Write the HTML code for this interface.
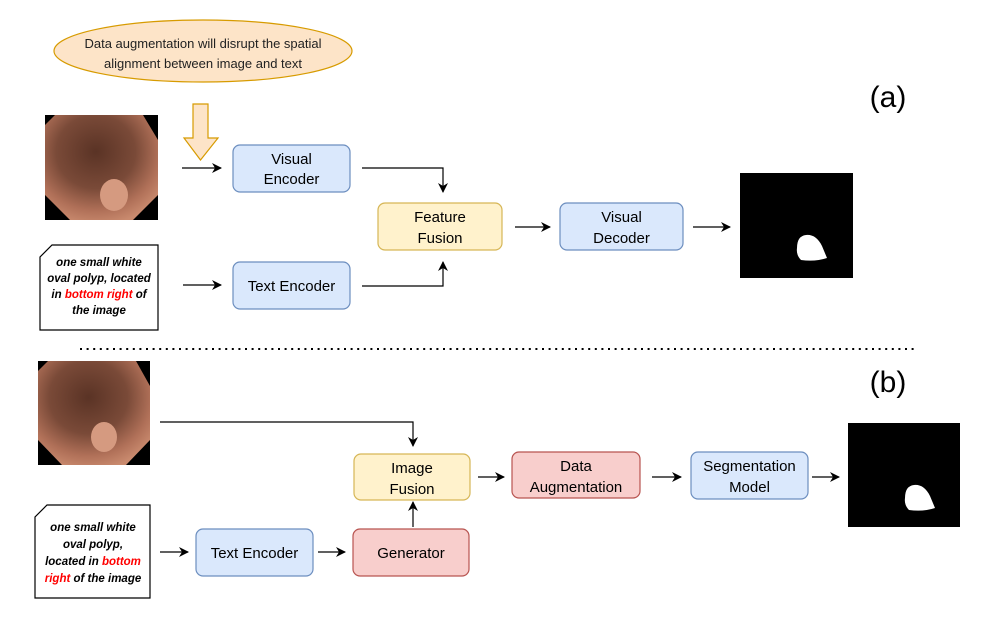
<!DOCTYPE html>
<html><head><style>body{margin:0;background:#fff}svg{display:block}text{font-family:"Liberation Sans",Arial,sans-serif}</style></head>
<body>
<svg width="996" height="623" viewBox="0 0 996 623" xmlns="http://www.w3.org/2000/svg">
<defs>
<marker id="ah" markerWidth="10" markerHeight="10" refX="9" refY="5" orient="auto" markerUnits="userSpaceOnUse"><path d="M0,0 L10,5 L0,10 L3,5 Z" fill="#000"/></marker>
<radialGradient id="pg" cx="0.45" cy="0.35" r="0.7"><stop offset="0" stop-color="#5a3325"/><stop offset="0.5" stop-color="#7a4a38"/><stop offset="0.8" stop-color="#b07058"/><stop offset="1" stop-color="#c98a6e"/></radialGradient>
</defs>
<ellipse cx="203" cy="51" rx="149" ry="31" fill="#fde4c8" stroke="#d79b00" stroke-width="1.2"/>
<text x="203" y="48" font-size="13" text-anchor="middle" fill="#222">Data augmentation will disrupt the spatial</text>
<text x="203" y="68" font-size="13" text-anchor="middle" fill="#222">alignment between image and text</text>
<path d="M193,104 H208 V138 H218 L200.5,160 L184,138 H193 Z" fill="#fde4c8" stroke="#d79b00" stroke-width="1.2"/>
<text x="888" y="107" font-size="30" text-anchor="middle">(a)</text>
<text x="888" y="392" font-size="30" text-anchor="middle">(b)</text>
<rect x="45" y="115" width="113" height="105" fill="#000"/>
<polygon points="55,115 143,115 158,140 158,195 133,220 70,220 45,195 45,125" fill="url(#pg)"/>
<ellipse cx="114" cy="195" rx="14" ry="16" fill="#d59a80"/>
<rect x="38" y="361" width="112" height="104" fill="#000"/>
<polygon points="48,361 136,361 150,386 150,440 126,465 62,465 38,440 38,371" fill="url(#pg)"/>
<ellipse cx="104" cy="437" rx="13" ry="15" fill="#d59a80"/>
<rect x="740" y="173" width="113" height="105" fill="#000"/>
<path d="M797,248 Q797,236 806,235 Q816,234 822,246 L827,258 Q815,262 801,260 Q796,255 797,248 Z" fill="#fff"/>
<rect x="848" y="423" width="112" height="104" fill="#000"/>
<path d="M905,498 Q905,486 914,485 Q924,484 930,496 L935,508 Q923,512 909,510 Q904,505 905,498 Z" fill="#fff"/>
<path d="M52,245 H158 V330 H40 V257 Z" fill="#fff" stroke="#000" stroke-width="1.2"/>
<g font-size="11.5" font-weight="bold" font-style="italic" text-anchor="middle">
<text x="99" y="266">one small white</text>
<text x="99" y="282">oval polyp, located</text>
<text x="99" y="298">in <tspan fill="#f00">bottom right</tspan> of</text>
<text x="99" y="314">the image</text>
</g>
<path d="M47,505 H150 V598 H35 V517 Z" fill="#fff" stroke="#000" stroke-width="1.2"/>
<g font-size="11.5" font-weight="bold" font-style="italic" text-anchor="middle">
<text x="93" y="531">one small white</text>
<text x="93" y="548">oval polyp,</text>
<text x="93" y="565">located in <tspan fill="#f00">bottom</tspan></text>
<text x="93" y="582"><tspan fill="#f00">right</tspan> of the image</text>
</g>
<g stroke-width="1.2" font-size="15" text-anchor="middle">
<rect x="233" y="145" width="117" height="47" rx="7" fill="#dae8fc" stroke="#6c8ebf"/>
<text x="291.5" y="164">Visual</text><text x="291.5" y="184">Encoder</text>
<rect x="233" y="262" width="117" height="47" rx="7" fill="#dae8fc" stroke="#6c8ebf"/>
<text x="291.5" y="291">Text Encoder</text>
<rect x="378" y="203" width="124" height="47" rx="7" fill="#fff2cc" stroke="#d6b656"/>
<text x="440" y="222">Feature</text><text x="440" y="243">Fusion</text>
<rect x="560" y="203" width="123" height="47" rx="7" fill="#dae8fc" stroke="#6c8ebf"/>
<text x="621.5" y="222">Visual</text><text x="621.5" y="243">Decoder</text>
<rect x="354" y="454" width="116" height="46" rx="7" fill="#fff2cc" stroke="#d6b656"/>
<text x="412" y="473">Image</text><text x="412" y="494">Fusion</text>
<rect x="512" y="452" width="128" height="46" rx="7" fill="#f8cecc" stroke="#b85450"/>
<text x="576" y="471">Data</text><text x="576" y="492">Augmentation</text>
<rect x="691" y="452" width="117" height="47" rx="7" fill="#dae8fc" stroke="#6c8ebf"/>
<text x="749.5" y="471">Segmentation</text><text x="749.5" y="492">Model</text>
<rect x="196" y="529" width="117" height="47" rx="7" fill="#dae8fc" stroke="#6c8ebf"/>
<text x="254.5" y="558">Text Encoder</text>
<rect x="353" y="529" width="116" height="47" rx="7" fill="#f8cecc" stroke="#b85450"/>
<text x="411" y="558">Generator</text>
</g>
<g stroke="#000" stroke-width="1.2" fill="none" marker-end="url(#ah)">
<path d="M182,168 H221"/>
<path d="M183,285 H221"/>
<path d="M362,168 H443 V192"/>
<path d="M362,286 H443 V262"/>
<path d="M515,227 H550"/>
<path d="M693,227 H730"/>
<path d="M160,422 H413 V446"/>
<path d="M478,477 H504"/>
<path d="M652,477 H681"/>
<path d="M812,477 H839"/>
<path d="M160,552 H188"/>
<path d="M318,552 H345"/>
<path d="M413,527 V502"/>
</g>
<line x1="80" y1="349" x2="918" y2="349" stroke="#000" stroke-width="2" stroke-dasharray="2,4.6"/>
</svg>
</body></html>
